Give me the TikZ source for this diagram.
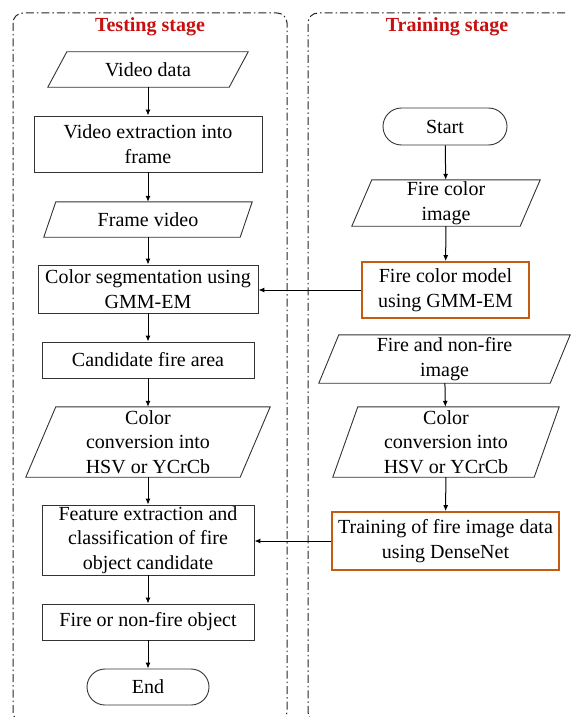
\documentclass[tikz,border=0pt]{standalone}
\usepackage{fontspec}
\setmainfont{Liberation Serif}
\usetikzlibrary{arrows.meta,shapes.misc}
\definecolor{titlered}{RGB}{200,16,16}
\definecolor{boxorange}{RGB}{197,90,17}
\begin{document}
\begin{tikzpicture}[x=1pt,y=-1pt,
  every node/.style={font=\fontsize{20}{24.5}\selectfont, align=center, inner sep=0pt},
  procbox/.style={draw=black!80, line width=0.9pt, rectangle, minimum width=#1},
  hlbox/.style={draw=boxorange, line width=1.8pt, rectangle, minimum width=#1},
  iobox/.style={rectangle, minimum width=#1},
  termbox/.style={draw=black!80, line width=0.9pt, rounded rectangle, minimum width=#1},
  paraline/.style={draw=black!80, line width=0.9pt},
  flow/.style={draw=black, line width=1pt, -{Latex[length=6pt,width=5pt]}},
  panel/.style={draw=black!85, line width=1pt, rounded corners=10pt,
    dash pattern=on 8pt off 3pt on 1.5pt off 3pt},
  paneltitle/.style={font=\fontsize{20}{24}\selectfont\bfseries, text=titlered}
]
\path[use as bounding box] (0,0) rectangle (570,717);

% panels (bottom edges and right edge run off the picture)
\begin{scope}
\clip (0,0) rectangle (570,717);
\draw[panel] (13,13) rectangle (287,722);
\draw[panel] (565,13) -- (308,13) -- (308,722) -- (400,722);
\end{scope}
\node[paneltitle] (ttest) at (150,27) {Testing stage};
\node[paneltitle] (ttrain) at (447,27) {Training stage};

% testing stage
\node[iobox=181, minimum height=35] (vd) at (148,69.5) {Video data};
\node[procbox=228, minimum height=56] (ve) at (148,144) {Video extraction into\\frame};
\node[iobox=196, minimum height=35] (fv) at (148,219.5) {Frame video};
\node[procbox=220, minimum height=48] (cs) at (148,289) {Color segmentation using\\GMM-EM};
\node[procbox=212, minimum height=36] (cf) at (148,360) {Candidate fire area};
\node[iobox=214, minimum height=70] (cc) at (148,442) {Color\\conversion into\\HSV or YCrCb};
\node[procbox=212, minimum height=70] (fe) at (148,540) {Feature extraction and\\classification of fire\\object candidate};
\node[procbox=212, minimum height=36] (fo) at (148,622) {Fire or non-fire object};
\node[termbox=122, minimum height=36] (en) at (148,687) {End};

% training stage
\node[termbox=124, minimum height=37] (st) at (445,126.5) {Start};
\node[iobox=168, minimum height=46] (fci) at (446,203) {Fire color\\image};
\node[hlbox=167, minimum height=56] (fcm) at (445.5,290) {Fire color model\\using GMM-EM};
\node[iobox=231, minimum height=48] (fni) at (444.5,359) {Fire and non-fire\\image};
\node[iobox=201, minimum height=70] (cc2) at (446,442) {Color\\conversion into\\HSV or YCrCb};
\node[hlbox=227, minimum height=58] (tr) at (445.5,541) {Training of fire image data\\using DenseNet};

% parallelogram outlines
\foreach \n/\s in {vd/9.5, fv/6, cc/15, fci/10, fni/10, cc2/12.5}{
  \draw[paraline] ([xshift=\s pt]\n.north west) -- ([xshift=\s pt]\n.north east)
    -- ([xshift=-\s pt]\n.south east) -- ([xshift=-\s pt]\n.south west) -- cycle;
}

% connectors
\draw[flow] (vd) -- (ve);
\draw[flow] (ve) -- (fv);
\draw[flow] (fv) -- (cs);
\draw[flow] (cs) -- (cf);
\draw[flow] (cf) -- (cc);
\draw[flow] (cc) -- (fe);
\draw[flow] (fe) -- (fo);
\draw[flow] (fo) -- (en);
\draw[flow] (st) -- (fci);
\draw[flow] (fci) -- (fcm);
\draw[flow] (fni) -- (cc2);
\draw[flow] (cc2) -- (tr);
\draw[flow] (fcm.west) -- (fcm.west -| cs.east);
\draw[flow] (tr.west) -- (tr.west -| fe.east);
\end{tikzpicture}
\end{document}
